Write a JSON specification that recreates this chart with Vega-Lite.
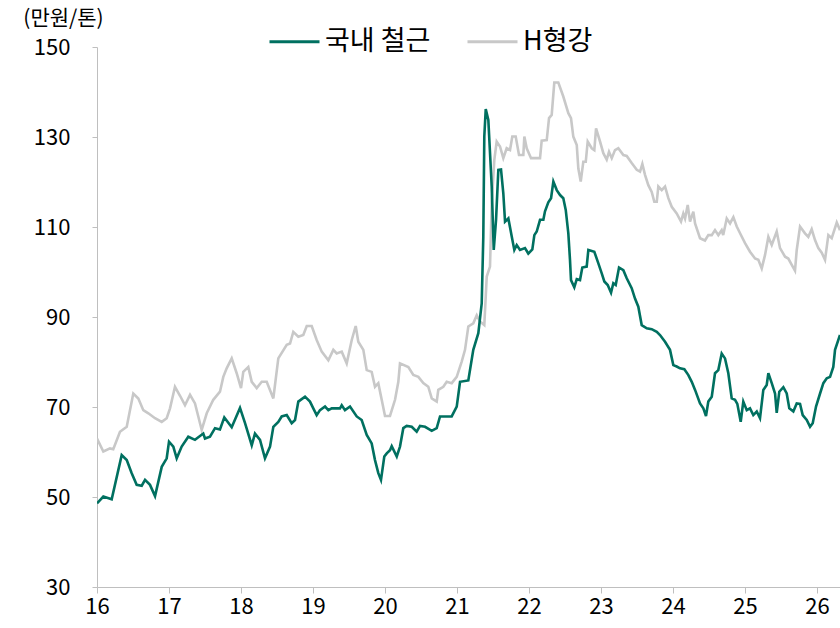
{
  "$schema": "https://vega.github.io/schema/vega-lite/v6.json",
  "width": 743,
  "height": 540,
  "autosize": {"type": "none"},
  "padding": {"left": 97, "top": 47, "right": 0, "bottom": 41},
  "background": "white",
  "config": {
    "view": {"stroke": null},
    "font": "Noto Sans CJK KR",
    "axis": {"grid": false, "domainColor": "#BFBFBF", "tickColor": "#BFBFBF", "labelColor": "#000000", "labelFontSize": 22, "labelFont": "Noto Sans CJK KR"}
  },
  "data": {"values": [
    {"s":"H형강","t":16.0,"v":63.0},{"s":"H형강","t":16.088,"v":60.1},{"s":"H형강","t":16.181,"v":60.8},{"s":"H형강","t":16.226,"v":60.6},{"s":"H형강","t":16.319,"v":64.5},{"s":"H형강","t":16.413,"v":65.6},{"s":"H형강","t":16.458,"v":69.3},{"s":"H형강","t":16.504,"v":73.0},{"s":"H형강","t":16.574,"v":71.9},{"s":"H형강","t":16.643,"v":69.3},{"s":"H형강","t":16.713,"v":68.6},{"s":"H형강","t":16.806,"v":67.5},{"s":"H형강","t":16.899,"v":66.7},{"s":"H형강","t":16.968,"v":67.5},{"s":"H형강","t":17.014,"v":69.7},{"s":"H형강","t":17.083,"v":74.5},{"s":"H형강","t":17.153,"v":72.5},{"s":"H형강","t":17.222,"v":70.4},{"s":"H형강","t":17.292,"v":72.7},{"s":"H형강","t":17.361,"v":70.8},{"s":"H형강","t":17.454,"v":64.9},{"s":"H형강","t":17.524,"v":68.6},{"s":"H형강","t":17.615,"v":71.6},{"s":"H형강","t":17.708,"v":73.4},{"s":"H형강","t":17.754,"v":76.7},{"s":"H형강","t":17.801,"v":78.6},{"s":"H형강","t":17.871,"v":80.8},{"s":"H형강","t":17.94,"v":77.5},{"s":"H형강","t":18.0,"v":74.2},{"s":"H형강","t":18.032,"v":77.8},{"s":"H형강","t":18.101,"v":78.9},{"s":"H형강","t":18.149,"v":75.6},{"s":"H형강","t":18.218,"v":74.2},{"s":"H형강","t":18.288,"v":75.6},{"s":"H형강","t":18.357,"v":75.6},{"s":"H형강","t":18.449,"v":71.9},{"s":"H형강","t":18.518,"v":80.8},{"s":"H형강","t":18.635,"v":83.8},{"s":"H형강","t":18.681,"v":84.1},{"s":"H형강","t":18.726,"v":86.7},{"s":"H형강","t":18.796,"v":85.6},{"s":"H형강","t":18.865,"v":86.0},{"s":"H형강","t":18.913,"v":88.0},{"s":"H형강","t":18.982,"v":88.0},{"s":"H형강","t":19.051,"v":84.9},{"s":"H형강","t":19.121,"v":82.3},{"s":"H형강","t":19.213,"v":80.4},{"s":"H형강","t":19.282,"v":82.7},{"s":"H형강","t":19.329,"v":81.9},{"s":"H형강","t":19.399,"v":82.3},{"s":"H형강","t":19.468,"v":79.7},{"s":"H형강","t":19.538,"v":84.9},{"s":"H형강","t":19.593,"v":88.0},{"s":"H형강","t":19.629,"v":84.5},{"s":"H형강","t":19.699,"v":82.7},{"s":"H형강","t":19.746,"v":78.2},{"s":"H형강","t":19.815,"v":77.8},{"s":"H형강","t":19.861,"v":74.5},{"s":"H형강","t":19.907,"v":75.3},{"s":"H형강","t":19.954,"v":71.6},{"s":"H형강","t":20.0,"v":68.0},{"s":"H형강","t":20.069,"v":68.0},{"s":"H형강","t":20.139,"v":71.6},{"s":"H형강","t":20.185,"v":75.6},{"s":"H형강","t":20.208,"v":79.7},{"s":"H형강","t":20.324,"v":78.9},{"s":"H형강","t":20.393,"v":77.1},{"s":"H형강","t":20.463,"v":76.7},{"s":"H형강","t":20.532,"v":75.3},{"s":"H형강","t":20.601,"v":74.5},{"s":"H형강","t":20.649,"v":71.9},{"s":"H형강","t":20.718,"v":71.2},{"s":"H형강","t":20.74,"v":73.8},{"s":"H형강","t":20.81,"v":74.5},{"s":"H형강","t":20.857,"v":75.6},{"s":"H형강","t":20.926,"v":75.3},{"s":"H형강","t":20.996,"v":76.7},{"s":"H형강","t":21.065,"v":80.1},{"s":"H형강","t":21.111,"v":82.7},{"s":"H형강","t":21.157,"v":87.9},{"s":"H형강","t":21.226,"v":88.6},{"s":"H형강","t":21.274,"v":90.4},{"s":"H형강","t":21.319,"v":89.0},{"s":"H형강","t":21.379,"v":88.2},{"s":"H형강","t":21.413,"v":99.0},{"s":"H형강","t":21.458,"v":101.2},{"s":"H형강","t":21.482,"v":115.3},{"s":"H형강","t":21.518,"v":124.9},{"s":"H형강","t":21.551,"v":129.0},{"s":"H형강","t":21.597,"v":127.9},{"s":"H형강","t":21.643,"v":125.3},{"s":"H형강","t":21.69,"v":127.5},{"s":"H형강","t":21.736,"v":127.1},{"s":"H형강","t":21.768,"v":130.1},{"s":"H형강","t":21.815,"v":130.1},{"s":"H형강","t":21.861,"v":126.0},{"s":"H형강","t":21.921,"v":126.0},{"s":"H형강","t":21.935,"v":130.1},{"s":"H형강","t":21.968,"v":127.5},{"s":"H형강","t":22.028,"v":125.3},{"s":"H형강","t":22.153,"v":125.3},{"s":"H형강","t":22.176,"v":129.2},{"s":"H형강","t":22.246,"v":129.3},{"s":"H형강","t":22.278,"v":134.2},{"s":"H형강","t":22.315,"v":134.9},{"s":"H형강","t":22.351,"v":142.1},{"s":"H형강","t":22.407,"v":142.1},{"s":"H형강","t":22.476,"v":139.0},{"s":"H형강","t":22.546,"v":135.3},{"s":"H형강","t":22.583,"v":134.2},{"s":"H형강","t":22.615,"v":130.1},{"s":"H형강","t":22.663,"v":128.2},{"s":"H형강","t":22.685,"v":123.0},{"s":"H형강","t":22.718,"v":120.1},{"s":"H형강","t":22.754,"v":124.5},{"s":"H형강","t":22.788,"v":124.5},{"s":"H형강","t":22.815,"v":129.0},{"s":"H형강","t":22.871,"v":127.5},{"s":"H형강","t":22.907,"v":127.1},{"s":"H형강","t":22.931,"v":131.9},{"s":"H형강","t":22.986,"v":129.0},{"s":"H형강","t":23.032,"v":126.4},{"s":"H형강","t":23.079,"v":125.0},{"s":"H형강","t":23.111,"v":126.7},{"s":"H형강","t":23.149,"v":125.3},{"s":"H형강","t":23.194,"v":127.1},{"s":"H형강","t":23.24,"v":127.5},{"s":"H형강","t":23.31,"v":126.0},{"s":"H형강","t":23.357,"v":125.8},{"s":"H형강","t":23.426,"v":124.2},{"s":"H형강","t":23.496,"v":122.7},{"s":"H형강","t":23.542,"v":122.3},{"s":"H형강","t":23.574,"v":124.0},{"s":"H형강","t":23.611,"v":121.6},{"s":"H형강","t":23.657,"v":119.3},{"s":"H형강","t":23.704,"v":117.8},{"s":"H형강","t":23.74,"v":115.6},{"s":"H형강","t":23.774,"v":115.6},{"s":"H형강","t":23.796,"v":119.0},{"s":"H형강","t":23.843,"v":118.2},{"s":"H형강","t":23.889,"v":119.0},{"s":"H형강","t":23.935,"v":116.4},{"s":"H형강","t":23.982,"v":114.5},{"s":"H형강","t":24.051,"v":113.0},{"s":"H형강","t":24.111,"v":111.2},{"s":"H형강","t":24.143,"v":113.0},{"s":"H형강","t":24.167,"v":111.9},{"s":"H형강","t":24.204,"v":114.9},{"s":"H형강","t":24.236,"v":111.2},{"s":"H형강","t":24.282,"v":113.4},{"s":"H형강","t":24.306,"v":110.8},{"s":"H형강","t":24.375,"v":107.5},{"s":"H형강","t":24.444,"v":107.0},{"s":"H형강","t":24.49,"v":108.2},{"s":"H형강","t":24.538,"v":108.2},{"s":"H형강","t":24.583,"v":109.3},{"s":"H형강","t":24.629,"v":108.2},{"s":"H형강","t":24.676,"v":109.3},{"s":"H형강","t":24.697,"v":108.2},{"s":"H형강","t":24.746,"v":111.9},{"s":"H형강","t":24.792,"v":110.8},{"s":"H형강","t":24.838,"v":112.2},{"s":"H형강","t":24.885,"v":110.1},{"s":"H형강","t":24.931,"v":108.6},{"s":"H형강","t":25.0,"v":106.4},{"s":"H형강","t":25.069,"v":104.5},{"s":"H형강","t":25.139,"v":103.0},{"s":"H형강","t":25.185,"v":102.7},{"s":"H형강","t":25.232,"v":100.8},{"s":"H형강","t":25.278,"v":103.8},{"s":"H형강","t":25.324,"v":107.8},{"s":"H형강","t":25.371,"v":106.0},{"s":"H형강","t":25.44,"v":109.0},{"s":"H형강","t":25.486,"v":105.3},{"s":"H형강","t":25.556,"v":103.4},{"s":"H형강","t":25.601,"v":103.0},{"s":"H형강","t":25.649,"v":101.6},{"s":"H형강","t":25.694,"v":100.3},{"s":"H형강","t":25.718,"v":104.9},{"s":"H형강","t":25.764,"v":110.1},{"s":"H형강","t":25.833,"v":108.6},{"s":"H형강","t":25.879,"v":107.8},{"s":"H형강","t":25.926,"v":109.5},{"s":"H형강","t":25.972,"v":107.1},{"s":"H형강","t":26.018,"v":105.3},{"s":"H형강","t":26.065,"v":104.3},{"s":"H형강","t":26.111,"v":102.7},{"s":"H형강","t":26.157,"v":108.2},{"s":"H형강","t":26.204,"v":107.5},{"s":"H형강","t":26.274,"v":111.0},{"s":"H형강","t":26.319,"v":109.3},
    {"s":"국내 철근","t":16.0,"v":48.6},{"s":"국내 철근","t":16.088,"v":50.1},{"s":"국내 철근","t":16.204,"v":49.5},{"s":"국내 철근","t":16.343,"v":59.3},{"s":"국내 철근","t":16.413,"v":58.2},{"s":"국내 철근","t":16.482,"v":55.3},{"s":"국내 철근","t":16.551,"v":52.7},{"s":"국내 철근","t":16.621,"v":52.5},{"s":"국내 철근","t":16.667,"v":53.8},{"s":"국내 철근","t":16.736,"v":52.7},{"s":"국내 철근","t":16.806,"v":50.2},{"s":"국내 철근","t":16.899,"v":56.7},{"s":"국내 철근","t":16.968,"v":58.6},{"s":"국내 철근","t":17.0,"v":62.3},{"s":"국내 철근","t":17.06,"v":61.2},{"s":"국내 철근","t":17.107,"v":58.6},{"s":"국내 철근","t":17.176,"v":61.2},{"s":"국내 철근","t":17.268,"v":63.4},{"s":"국내 철근","t":17.361,"v":62.7},{"s":"국내 철근","t":17.476,"v":64.1},{"s":"국내 철근","t":17.5,"v":63.0},{"s":"국내 철근","t":17.569,"v":63.4},{"s":"국내 철근","t":17.639,"v":65.3},{"s":"국내 철근","t":17.708,"v":65.0},{"s":"국내 철근","t":17.768,"v":67.7},{"s":"국내 철근","t":17.871,"v":65.5},{"s":"국내 철근","t":17.986,"v":69.8},{"s":"국내 철근","t":18.056,"v":66.4},{"s":"국내 철근","t":18.149,"v":61.5},{"s":"국내 철근","t":18.194,"v":64.1},{"s":"국내 철근","t":18.264,"v":62.7},{"s":"국내 철근","t":18.333,"v":58.6},{"s":"국내 철근","t":18.403,"v":61.2},{"s":"국내 철근","t":18.449,"v":65.6},{"s":"국내 철근","t":18.518,"v":66.7},{"s":"국내 철근","t":18.565,"v":67.9},{"s":"국내 철근","t":18.635,"v":68.2},{"s":"국내 철근","t":18.704,"v":66.4},{"s":"국내 철근","t":18.75,"v":67.1},{"s":"국내 철근","t":18.796,"v":71.2},{"s":"국내 철근","t":18.889,"v":72.3},{"s":"국내 철근","t":18.958,"v":71.2},{"s":"국내 철근","t":19.004,"v":69.7},{"s":"국내 철근","t":19.051,"v":68.2},{"s":"국내 철근","t":19.097,"v":69.3},{"s":"국내 철근","t":19.167,"v":70.1},{"s":"국내 철근","t":19.213,"v":69.3},{"s":"국내 철근","t":19.26,"v":69.7},{"s":"국내 철근","t":19.375,"v":69.7},{"s":"국내 철근","t":19.399,"v":70.4},{"s":"국내 철근","t":19.444,"v":69.3},{"s":"국내 철근","t":19.514,"v":70.1},{"s":"국내 철근","t":19.607,"v":67.9},{"s":"국내 철근","t":19.676,"v":67.1},{"s":"국내 철근","t":19.746,"v":63.8},{"s":"국내 철근","t":19.815,"v":61.9},{"s":"국내 철근","t":19.861,"v":58.2},{"s":"국내 철근","t":19.907,"v":55.3},{"s":"국내 철근","t":19.944,"v":53.8},{"s":"국내 철근","t":19.99,"v":59.0},{"s":"국내 철근","t":20.024,"v":59.7},{"s":"국내 철근","t":20.069,"v":60.4},{"s":"국내 철근","t":20.093,"v":61.3},{"s":"국내 철근","t":20.163,"v":59.0},{"s":"국내 철근","t":20.208,"v":61.2},{"s":"국내 철근","t":20.254,"v":65.3},{"s":"국내 철근","t":20.301,"v":65.8},{"s":"국내 철근","t":20.371,"v":65.6},{"s":"국내 철근","t":20.44,"v":64.5},{"s":"국내 철근","t":20.486,"v":65.8},{"s":"국내 철근","t":20.556,"v":65.6},{"s":"국내 철근","t":20.649,"v":64.7},{"s":"국내 철근","t":20.718,"v":65.3},{"s":"국내 철근","t":20.764,"v":67.9},{"s":"국내 철근","t":20.926,"v":67.9},{"s":"국내 철근","t":20.996,"v":70.1},{"s":"국내 철근","t":21.042,"v":75.6},{"s":"국내 철근","t":21.157,"v":75.9},{"s":"국내 철근","t":21.226,"v":82.7},{"s":"국내 철근","t":21.296,"v":86.4},{"s":"국내 철근","t":21.343,"v":93.0},{"s":"국내 철근","t":21.365,"v":107.8},{"s":"국내 철근","t":21.379,"v":130.1},{"s":"국내 철근","t":21.399,"v":136.2},{"s":"국내 철근","t":21.435,"v":133.8},{"s":"국내 철근","t":21.482,"v":119.0},{"s":"국내 철근","t":21.51,"v":104.9},{"s":"국내 철근","t":21.542,"v":111.6},{"s":"국내 철근","t":21.574,"v":122.7},{"s":"국내 철근","t":21.611,"v":122.8},{"s":"국내 철근","t":21.643,"v":117.5},{"s":"국내 철근","t":21.667,"v":111.2},{"s":"국내 철근","t":21.713,"v":111.9},{"s":"국내 철근","t":21.76,"v":107.9},{"s":"국내 철근","t":21.796,"v":104.9},{"s":"국내 철근","t":21.829,"v":106.0},{"s":"국내 철근","t":21.875,"v":104.9},{"s":"국내 철근","t":21.944,"v":105.3},{"s":"국내 철근","t":21.99,"v":104.1},{"s":"국내 철근","t":22.046,"v":105.0},{"s":"국내 철근","t":22.074,"v":108.2},{"s":"국내 철근","t":22.107,"v":109.0},{"s":"국내 철근","t":22.153,"v":111.6},{"s":"국내 철근","t":22.199,"v":111.6},{"s":"국내 철근","t":22.222,"v":113.5},{"s":"국내 철근","t":22.268,"v":115.5},{"s":"국내 철근","t":22.306,"v":116.4},{"s":"국내 철근","t":22.338,"v":120.1},{"s":"국내 철근","t":22.385,"v":118.2},{"s":"국내 철근","t":22.431,"v":117.1},{"s":"국내 철근","t":22.476,"v":116.4},{"s":"국내 철근","t":22.51,"v":113.8},{"s":"국내 철근","t":22.546,"v":108.6},{"s":"국내 철근","t":22.569,"v":102.7},{"s":"국내 철근","t":22.583,"v":98.2},{"s":"국내 철근","t":22.629,"v":96.6},{"s":"국내 철근","t":22.663,"v":98.4},{"s":"국내 철근","t":22.708,"v":98.2},{"s":"국내 철근","t":22.74,"v":101.0},{"s":"국내 철근","t":22.801,"v":101.2},{"s":"국내 철근","t":22.824,"v":104.9},{"s":"국내 철근","t":22.907,"v":104.5},{"s":"국내 철근","t":22.963,"v":101.9},{"s":"국내 철근","t":23.01,"v":99.7},{"s":"국내 철근","t":23.046,"v":97.9},{"s":"국내 철근","t":23.093,"v":97.1},{"s":"국내 철근","t":23.139,"v":95.4},{"s":"국내 철근","t":23.171,"v":97.5},{"s":"국내 철근","t":23.204,"v":97.1},{"s":"국내 철근","t":23.25,"v":101.0},{"s":"국내 철근","t":23.31,"v":100.4},{"s":"국내 철근","t":23.357,"v":98.6},{"s":"국내 철근","t":23.426,"v":96.4},{"s":"국내 철근","t":23.472,"v":94.1},{"s":"국내 철근","t":23.518,"v":92.3},{"s":"국내 철근","t":23.565,"v":88.2},{"s":"국내 철근","t":23.635,"v":87.5},{"s":"국내 철근","t":23.704,"v":87.3},{"s":"국내 철근","t":23.774,"v":86.7},{"s":"국내 철근","t":23.819,"v":86.0},{"s":"국내 철근","t":23.889,"v":84.5},{"s":"국내 철근","t":23.958,"v":82.7},{"s":"국내 철근","t":24.004,"v":79.3},{"s":"국내 철근","t":24.051,"v":79.0},{"s":"국내 철근","t":24.097,"v":78.6},{"s":"국내 철근","t":24.157,"v":78.4},{"s":"국내 철근","t":24.213,"v":77.1},{"s":"국내 철근","t":24.26,"v":75.6},{"s":"국내 철근","t":24.306,"v":73.8},{"s":"국내 철근","t":24.375,"v":70.8},{"s":"국내 철근","t":24.421,"v":69.7},{"s":"국내 철근","t":24.458,"v":68.0},{"s":"국내 철근","t":24.49,"v":71.2},{"s":"국내 철근","t":24.538,"v":72.3},{"s":"국내 철근","t":24.583,"v":77.5},{"s":"국내 철근","t":24.629,"v":78.2},{"s":"국내 철근","t":24.676,"v":81.9},{"s":"국내 철근","t":24.722,"v":80.8},{"s":"국내 철근","t":24.768,"v":77.5},{"s":"국내 철근","t":24.815,"v":71.9},{"s":"국내 철근","t":24.861,"v":71.6},{"s":"국내 철근","t":24.893,"v":70.7},{"s":"국내 철근","t":24.94,"v":66.7},{"s":"국내 철근","t":24.976,"v":71.2},{"s":"국내 철근","t":25.024,"v":69.3},{"s":"국내 철근","t":25.069,"v":69.7},{"s":"국내 철근","t":25.115,"v":68.2},{"s":"국내 철근","t":25.163,"v":69.0},{"s":"국내 철근","t":25.208,"v":67.5},{"s":"국내 철근","t":25.254,"v":73.8},{"s":"국내 철근","t":25.301,"v":74.9},{"s":"국내 철근","t":25.324,"v":77.5},{"s":"국내 철근","t":25.371,"v":75.3},{"s":"국내 철근","t":25.417,"v":73.0},{"s":"국내 철근","t":25.44,"v":68.7},{"s":"국내 철근","t":25.476,"v":73.4},{"s":"국내 철근","t":25.532,"v":74.4},{"s":"국내 철근","t":25.579,"v":73.0},{"s":"국내 철근","t":25.615,"v":69.7},{"s":"국내 철근","t":25.671,"v":69.0},{"s":"국내 철근","t":25.718,"v":70.8},{"s":"국내 철근","t":25.764,"v":70.7},{"s":"국내 철근","t":25.801,"v":68.2},{"s":"국내 철근","t":25.857,"v":67.1},{"s":"국내 철근","t":25.903,"v":65.6},{"s":"국내 철근","t":25.94,"v":66.4},{"s":"국내 철근","t":25.986,"v":70.1},{"s":"국내 철근","t":26.042,"v":73.0},{"s":"국내 철근","t":26.088,"v":75.3},{"s":"국내 철근","t":26.135,"v":76.4},{"s":"국내 철근","t":26.181,"v":76.7},{"s":"국내 철근","t":26.226,"v":78.9},{"s":"국내 철근","t":26.25,"v":82.7},{"s":"국내 철근","t":26.319,"v":86.0}
  ]},
  "mark": {"type": "line", "strokeWidth": 2.6, "clip": true},
  "encoding": {
    "x": {"field": "t", "type": "quantitative",
      "scale": {"domain": [16, 26.319], "nice": false, "zero": false},
      "axis": {"values": [16,17,18,19,20,21,22,23,24,25,26], "format": "d", "title": null, "tickSize": 6, "labelPadding": 3, "labelFlush": false, "labelOverlap": false}},
    "y": {"field": "v", "type": "quantitative",
      "scale": {"domain": [30, 150], "nice": false, "zero": false},
      "axis": {"values": [30,50,70,90,110,130,150], "title": "(만원/톤)", "titleAngle": 0, "titleFontSize": 21, "titleFontWeight": "normal", "titleAlign": "center", "titleBaseline": "middle", "titleX": -34, "titleY": -29, "tickSize": 5, "labelPadding": 22, "labelFlush": false}},
    "color": {"field": "s", "type": "nominal",
      "scale": {"domain": ["국내 철근", "H형강"], "range": ["#007060", "#C8C8C8"]},
      "legend": {"title": null, "orient": "none", "legendX": 171, "legendY": -32, "direction": "horizontal", "symbolType": "stroke", "symbolSize": 2500, "symbolStrokeWidth": 3, "labelFontSize": 27, "labelFont": "Noto Sans CJK KR", "columnPadding": 30, "labelOffset": 4, "labelLimit": 300}},
    "order": {"field": "t", "type": "quantitative"}
  }
}
